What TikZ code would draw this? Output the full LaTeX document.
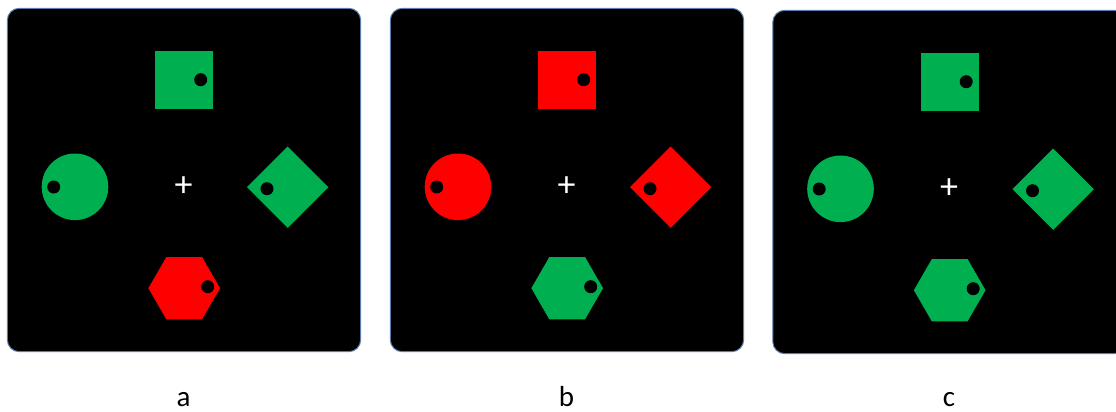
\documentclass[tikz,border=0pt]{standalone}
\usepackage{fontspec}
\setmainfont{Carlito}
\usetikzlibrary{shapes.geometric}
\definecolor{stimgreen}{HTML}{00B050}
\definecolor{stimred}{HTML}{FF0000}
\definecolor{panelborder}{HTML}{5B7DB1}
\tikzset{
  panelbox/.style={draw=panelborder, line width=1pt, fill=black, rounded corners=12pt},
  sq/.style={rectangle, minimum size=58pt, inner sep=0pt, outer sep=0pt, fill=#1},
  circ/.style={circle, minimum size=66.6pt, inner sep=0pt, outer sep=0pt, fill=#1},
  dia/.style={diamond, minimum width=81.4pt, minimum height=81.4pt, inner sep=0pt, outer sep=0pt, fill=#1},
  hexa/.style={regular polygon, regular polygon sides=6, minimum size=71.7pt, inner sep=0pt, outer sep=0pt, fill=#1},
  holedot/.style={circle, minimum size=13pt, inner sep=0pt, outer sep=0pt, fill=black},
  fixcross/.style={text=white, font=\fontsize{36}{36}\selectfont, inner sep=0pt},
  lbl/.style={font=\fontsize{29}{34}\selectfont, anchor=base, inner sep=0pt},
}
% #1 prefix, #2 dx, #3 dy, #4 square, #5 circle, #6 diamond, #7 hexagon, #8 label
\newcommand\stimpanel[8]{%
  \begin{scope}[shift={(#2,#3)}]
    \path[panelbox] (7.3,8.3) rectangle (360.7,351.7);
    \node[sq=#4] (#1sq) at (184,79.7) {};
    \node[circ=#5] (#1ci) at (75,186.8) {};
    \node[dia=#6] (#1di) at (287.7,187.2) {};
    \node[hexa=#7] (#1hx) at (184.2,288.2) {};
    \node[holedot] (#1sqd) at ([shift={(16.7,0)}]#1sq.center) {};
    \node[holedot] (#1cid) at ([shift={(-21.3,0.2)}]#1ci.center) {};
    \node[holedot] (#1did) at ([shift={(-20.7,1.5)}]#1di.center) {};
    \node[holedot] (#1hxd) at ([shift={(23.5,-1.5)}]#1hx.center) {};
    \node[fixcross] (#1fx) at (183.7,186.3) {+};
  \end{scope}
  \node[lbl] (#1lbl) at (#2+183.5,406.8) {#8};
}
\begin{document}
\begin{tikzpicture}[x=1pt,y=-1pt]
  \useasboundingbox (0,0) rectangle (1116,412);
  \stimpanel{a}{0}{0}{stimgreen}{stimgreen}{stimgreen}{stimred}{a}
  \stimpanel{b}{383}{0}{stimred}{stimred}{stimred}{stimgreen}{b}
  \stimpanel{c}{765.5}{2}{stimgreen}{stimgreen}{stimgreen}{stimgreen}{c}
\end{tikzpicture}
\end{document}
